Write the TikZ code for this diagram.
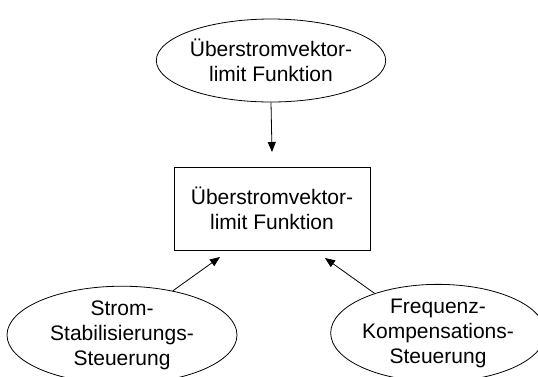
\documentclass[tikz,border=0pt]{standalone}
\usepackage{fontspec}
\setmainfont{Liberation Sans}
\usetikzlibrary{shapes.geometric,arrows.meta}
\begin{document}
\begin{tikzpicture}[x=1pt,y=-1pt,
  every node/.style={font=\fontsize{21}{25}\selectfont, align=center, inner sep=0pt},
  oval/.style={ellipse, draw, line width=0.8pt},
  block/.style={rectangle, draw, line width=0.8pt},
  arr/.style={line width=0.8pt, -{Triangle[length=10pt,width=8pt]}}]
  \useasboundingbox (0,0) rectangle (538,376);
  % function block and its three inputs
  \node[block, minimum width=196pt, minimum height=83pt] (box) at (272,208.5)
    {Überstromvektor-\\limit Funktion};
  \node[oval, minimum width=206pt, minimum height=83pt] (top) at (271,60.5)
    {Überstromvektor-\\limit Funktion};
  \node[oval, minimum width=230pt, minimum height=88pt] (left) at (122,335)
    {Strom-\\Stabilisierungs-\\Steuerung};
  \node[oval, minimum width=200pt, minimum height=88pt] (right) at (438,333)
    {Frequenz-\\Kompensations-\\Steuerung};
  % arrow end points just below / above the block
  \coordinate (tipT) at (272,152);
  \coordinate (tipL) at (220,257);
  \coordinate (tipR) at (325,258);
  \draw[arr] (top.south) -- (tipT);
  \draw[arr] (left.41) -- (tipL);
  \draw[arr] (right.148) -- (tipR);
\end{tikzpicture}
\end{document}
